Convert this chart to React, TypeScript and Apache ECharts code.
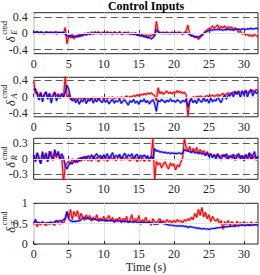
import React, { useEffect, useRef } from "react";
import * as echarts from "echarts";

const T_STEP = 0.25;
const X_TICKS = [0, 5, 10, 15, 20, 25, 30];
const X_TICKS_NO0 = [5, 10, 15, 20, 25, 30];

const elevRed = [
  0.02, 0.0, 0.03, -0.01, 0.02, 0.01, -0.02, 0.03,
  0.0, 0.02, -0.01, 0.01, 0.03, -0.02, 0.01, 0.0,
  0.02, -0.01, 0.14, -0.26, -0.05, -0.12, -0.03, -0.14,
  -0.06, -0.1, -0.02, -0.08, -0.04, 0.0, -0.05, 0.02,
  -0.02, 0.03, -0.01, 0.04, 0.0, 0.03, -0.02, 0.02,
  0.01, -0.02, 0.04, 0.0, 0.02, -0.03, 0.03, 0.01,
  -0.01, 0.04, 0.0, -0.02, 0.02, 0.0, 0.03, -0.03,
  0.01, -0.02, 0.02, -0.04, -0.02, -0.06, -0.03, -0.08,
  -0.04, -0.09, -0.05, -0.07, -0.03, -0.06, 0.29, 0.05,
  0.02, -0.01, 0.02, 0.0, 0.03, -0.01, 0.01, 0.02,
  -0.01, 0.02, 0.0, 0.03, 0.01, -0.02, 0.02, 0.05,
  0.2, -0.03, -0.08, -0.05, -0.11, -0.08, -0.15, -0.1,
  -0.06, 0.0, 0.05, 0.08, 0.12, 0.1, 0.18, 0.12,
  0.16, 0.2, 0.11, 0.17, 0.13, 0.18, 0.1, 0.16,
  0.12, 0.15, 0.08, 0.13, 0.09, 0.02, 0.05, -0.02,
  0.0, -0.05, -0.02, -0.07, -0.04, -0.08, -0.03, -0.06,
  -0.09,
];
const elevBlue = [
  0.03, 0.02, 0.04, 0.01, 0.03, 0.02, 0.0, 0.03,
  0.02, 0.01, 0.03, 0.0, 0.02, 0.03, 0.01, 0.02,
  0.01, 0.02, -0.02, -0.06, -0.08, -0.05, -0.1, -0.07,
  -0.09, -0.06, -0.08, -0.04, -0.06, -0.02, -0.04, -0.01,
  -0.03, 0.0, -0.02, 0.01, -0.01, 0.02, 0.0, -0.01,
  0.01, 0.0, 0.02, -0.01, 0.01, 0.0, 0.02, -0.01,
  0.0, 0.01, -0.02, 0.0, 0.01, -0.01, 0.0, -0.02,
  -0.01, -0.03, -0.02, -0.05, -0.04, -0.07, -0.06, -0.09,
  -0.08, -0.12, -0.1, -0.14, -0.11, -0.06, 0.09, 0.03,
  0.01, 0.0, 0.02, -0.01, 0.01, 0.0, -0.01, 0.01,
  0.0, 0.01, -0.01, 0.01, 0.0, -0.02, 0.0, 0.01,
  -0.01, -0.03, -0.05, -0.07, -0.09, -0.08, -0.1, -0.07,
  -0.04, -0.01, 0.02, 0.05, 0.07, 0.08, 0.07, 0.09,
  0.08, 0.1, 0.08, 0.09, 0.07, 0.09, 0.08, 0.1,
  0.08, 0.09, 0.07, 0.1, 0.09, 0.1, 0.08, 0.11,
  0.1, 0.09, 0.11, 0.1, 0.12, 0.1, 0.11, 0.12,
  0.11,
];
const ailRed = [
  0.38, 0.08, 0.12, 0.02, 0.1, -0.02, 0.06, 0.11,
  0.0, 0.08, -0.04, 0.05, 0.12, 0.02, 0.07, 0.03,
  0.06, 0.0, 0.5, -0.02, 0.05, -0.06, -0.03, -0.08,
  -0.04, -0.07, -0.02, -0.06, -0.03, -0.05, -0.02, -0.06,
  -0.03, -0.05, -0.01, -0.04, -0.02, -0.06, -0.03, -0.01,
  -0.04, -0.02, -0.05, -0.01, -0.03, 0.0, -0.04, -0.02,
  -0.01, -0.04, 0.0, -0.03, -0.01, 0.02, -0.02, 0.01,
  0.0, 0.03, 0.01, 0.05, 0.02, 0.06, 0.04, 0.08,
  0.05, 0.09, 0.07, 0.1, 0.06, 0.03, -0.1, 0.22,
  0.08, 0.12, 0.06, 0.1, 0.14, 0.08, 0.11, 0.07,
  0.12, 0.09, 0.15, 0.1, 0.13, 0.08, 0.11, 0.05,
  -0.48, -0.1, -0.03, 0.0, -0.02, 0.01, -0.01, 0.02,
  0.0, -0.02, 0.01, 0.03, 0.0, 0.02, 0.04, 0.01,
  0.03, 0.06, 0.02, 0.05, 0.08, 0.04, 0.07, 0.1,
  0.06, 0.09, 0.12, 0.07, 0.1, 0.14, 0.08, 0.12,
  0.1, 0.15, 0.09, 0.13, 0.11, 0.16, 0.12, 0.18,
  0.14,
];
const ailBlue = [
  0.16, 0.2, 0.05, -0.08, 0.1, -0.12, 0.04, 0.12,
  -0.06, 0.08, -0.15, 0.02, 0.1, -0.1, 0.05, -0.04,
  0.08, -0.02, 0.12, 0.28, 0.18, -0.02, -0.1, -0.05,
  -0.14, -0.06, -0.18, -0.08, -0.12, -0.03, -0.16, -0.07,
  -0.1, -0.02, -0.15, -0.06, -0.12, -0.04, -0.09, -0.14,
  -0.05, -0.13, -0.08, -0.17, -0.1, -0.06, -0.15, -0.09,
  -0.12, -0.05, -0.16, -0.1, -0.07, -0.14, -0.2, -0.09,
  -0.13, -0.06, -0.15, -0.1, -0.18, -0.08, -0.12, -0.05,
  -0.14, -0.09, -0.17, -0.11, -0.07, -0.16, -0.35, -0.08,
  -0.12, -0.06, -0.1, -0.14, -0.08, -0.12, -0.05, -0.11,
  -0.09, -0.13, -0.07, -0.1, -0.15, -0.08, -0.12, -0.06,
  -0.25, -0.12, -0.05, -0.14, -0.08, -0.16, -0.04, -0.1,
  -0.13, -0.02, -0.11, -0.06, -0.15, -0.03, -0.12, -0.07,
  -0.1, 0.0, -0.08, -0.14, -0.02, 0.04, -0.06, 0.05,
  0.02, 0.1, 0.0, 0.14, 0.06, 0.12, -0.02, 0.15,
  0.04, 0.16, 0.0, 0.12, 0.18, 0.02, 0.14, 0.08,
  0.12,
];
const rudRed = [
  0.05, -0.06, 0.1, 0.0, -0.08, 0.08, -0.02, 0.12,
  -0.04, 0.06, 0.14, -0.03, 0.1, 0.02, 0.15, -0.02,
  0.04, -0.45, -0.15, -0.08, -0.05, -0.1, 0.0, -0.06,
  -0.02, -0.08, 0.02, -0.05, 0.04, -0.03, 0.05, -0.04,
  0.02, -0.05, 0.06, -0.02, 0.03, -0.06, 0.01, 0.05,
  -0.03, 0.04, -0.05, 0.02, 0.06, -0.02, 0.03, -0.04,
  0.02, 0.05, -0.03, 0.04, -0.02, 0.03, 0.0, -0.04,
  0.03, -0.02, 0.05, -0.06, 0.02, -0.03, 0.04, -0.05,
  -0.01, 0.03, -0.05, 0.02, 0.4, -0.42, -0.05, -0.12,
  -0.08, -0.18, -0.1, -0.06, -0.15, -0.2, -0.08, -0.14,
  -0.1, -0.22, -0.12, -0.16, -0.06, 0.02, 0.4, 0.22,
  0.16, 0.24, 0.12, 0.2, 0.14, 0.22, 0.1, 0.18,
  0.12, 0.16, 0.08, 0.14, 0.06, 0.1, 0.04, 0.08,
  0.05, 0.1, 0.02, 0.07, 0.04, 0.08, 0.0, 0.06,
  0.03, 0.07, 0.0, 0.05, 0.08, 0.02, 0.06, 0.01,
  0.04, 0.08, -0.02, 0.05, 0.1, 0.0, 0.06, -0.03,
  0.04,
];
const rudBlue = [
  0.08, -0.05, 0.12, 0.02, -0.1, 0.14, 0.0, 0.1,
  -0.06, 0.15, 0.04, -0.02, 0.18, 0.06, 0.12, 0.0,
  0.1, 0.02, -0.14, -0.2, -0.12, -0.08, -0.1, -0.04,
  -0.07, 0.0, -0.05, 0.03, -0.02, 0.05, 0.0, 0.06,
  0.02, 0.08, -0.01, 0.06, 0.1, 0.02, 0.07, 0.0,
  0.08, 0.03, 0.1, -0.02, 0.06, 0.12, 0.02, 0.07,
  0.03, 0.09, 0.0, 0.06, 0.11, 0.02, 0.08, 0.04,
  0.1, 0.01, 0.06, 0.09, 0.0, 0.07, 0.03, 0.08,
  0.02, 0.06, -0.02, 0.05, 0.0, 0.2, 0.15, 0.16,
  0.13, 0.14, 0.12, 0.13, 0.11, 0.12, 0.1, 0.12,
  0.1, 0.11, 0.1, 0.12, 0.1, 0.11, 0.18, 0.16,
  0.15, 0.14, 0.12, 0.15, 0.11, 0.13, 0.1, 0.12,
  0.09, 0.11, 0.06, 0.12, 0.04, 0.1, 0.02, 0.08,
  0.0, 0.09, 0.03, -0.02, 0.08, 0.04, 0.1, -0.01,
  0.06, 0.02, 0.09, -0.03, 0.05, 0.1, 0.0, 0.07,
  -0.04, 0.08, 0.02, 0.12, -0.02, 0.06, 0.14, 0.0,
  0.05,
];
const thrRed = [
  0.48, 0.55, 0.42, 0.52, 0.47, 0.56, 0.5, 0.45,
  0.53, 0.48, 0.55, 0.5, 0.46, 0.58, 0.52, 0.49,
  0.55, 0.5, 0.62, 0.78, 0.65, 0.85, 0.6, 0.8,
  0.68, 0.82, 0.6, 0.75, 0.66, 0.58, 0.72, 0.62,
  0.7, 0.56, 0.66, 0.6, 0.72, 0.55, 0.64, 0.58,
  0.68, 0.55, 0.63, 0.7, 0.57, 0.65, 0.52, 0.62,
  0.58, 0.66, 0.52, 0.63, 0.56, 0.68, 0.5, 0.6,
  0.72, 0.5, 0.62, 0.56, 0.7, 0.48, 0.6, 0.54,
  0.66, 0.5, 0.58, 0.46, 0.62, 0.55, 0.5, 0.58,
  0.62, 0.52, 0.58, 0.5, 0.6, 0.54, 0.57, 0.52,
  0.58, 0.53, 0.6, 0.55, 0.57, 0.52, 0.6, 0.56,
  0.62, 0.58, 0.66, 0.6, 0.75, 0.65, 0.85, 0.7,
  0.9, 0.66, 0.78, 0.62, 0.72, 0.55, 0.68, 0.6,
  0.56, 0.62, 0.5, 0.58, 0.36, 0.55, 0.48, 0.58,
  0.45, 0.55, 0.5, 0.42, 0.56, 0.48, 0.53, 0.46,
  0.55, 0.48, 0.52, 0.45, 0.54, 0.5, 0.47, 0.53,
  0.5,
];
const thrBlue = [
  0.5, 0.6, 0.52, 0.53, 0.51, 0.52, 0.5, 0.52,
  0.51, 0.53, 0.52, 0.5, 0.55, 0.57, 0.55, 0.58,
  0.56, 0.6, 0.62, 0.8, 0.62, 0.57, 0.55, 0.56,
  0.55, 0.57, 0.56, 0.6, 0.64, 0.66, 0.62, 0.63,
  0.61, 0.62, 0.6, 0.61, 0.59, 0.6, 0.58, 0.59,
  0.58, 0.59, 0.57, 0.58, 0.57, 0.58, 0.56, 0.57,
  0.56, 0.57, 0.55, 0.56, 0.55, 0.56, 0.54, 0.55,
  0.55, 0.54, 0.55, 0.53, 0.54, 0.53, 0.54, 0.52,
  0.53, 0.52, 0.53, 0.51, 0.52, 0.48, 0.5, 0.49,
  0.55, 0.53, 0.5, 0.49, 0.48, 0.47, 0.46, 0.46,
  0.45, 0.45, 0.44, 0.45, 0.44, 0.45, 0.43, 0.44,
  0.4, 0.43, 0.42, 0.41, 0.4, 0.39, 0.39, 0.38,
  0.37, 0.38, 0.37, 0.37, 0.36, 0.37, 0.38, 0.38,
  0.39, 0.4, 0.4, 0.41, 0.41, 0.42, 0.42, 0.43,
  0.43, 0.44, 0.44, 0.45, 0.45, 0.44, 0.46, 0.46,
  0.46, 0.45, 0.47, 0.46, 0.47, 0.46, 0.48, 0.47,
  0.47,
];

const FONT = '"Liberation Serif", "Times New Roman", serif';

type Panel = {
  red: number[];
  blue: number[];
  yMin: number;
  yMax: number;
  yTicks: number[];
  limits: number[];
  sub: string;
  top: number;
  height: number;
  xTicks: number[];
};

const panels: Panel[] = [
  { red: elevRed, blue: elevBlue, yMin: -0.5, yMax: 0.5, yTicks: [-0.4, 0, 0.4], limits: [-0.4, 0.4], sub: "E", top: 12.7, height: 41, xTicks: X_TICKS },
  { red: ailRed, blue: ailBlue, yMin: -0.48, yMax: 0.47, yTicks: [-0.4, 0, 0.4], limits: [-0.4, 0.4], sub: "A", top: 77.3, height: 39.5, xTicks: X_TICKS },
  { red: rudRed, blue: rudBlue, yMin: -0.4, yMax: 0.4, yTicks: [-0.3, 0, 0.3], limits: [-0.3, 0.3], sub: "R", top: 138.3, height: 41, xTicks: X_TICKS_NO0 },
  { red: thrRed, blue: thrBlue, yMin: 0, yMax: 1, yTicks: [0, 0.5, 1], limits: [], sub: "T", top: 203.3, height: 40.7, xTicks: X_TICKS },
];

const toPairs = (arr: number[]) => arr.map((v, i) => [i * T_STEP, v]);

function lineSeries(k: number, data: number[], color: string, width: number, opacity: number, z: number) {
  return {
    type: "line",
    xAxisIndex: k,
    yAxisIndex: k,
    data: toPairs(data),
    showSymbol: false,
    symbol: "none",
    silent: true,
    z,
    lineStyle: { color, width, opacity },
    itemStyle: { color },
  };
}

function buildOption() {
  const grid: any[] = [];
  const xAxis: any[] = [];
  const yAxis: any[] = [];
  const series: any[] = [];
  const graphic: any[] = [];

  panels.forEach((p, k) => {
    grid.push({
      left: 33.7,
      right: 2,
      top: p.top,
      height: p.height,
      show: true,
      borderColor: "#262626",
      borderWidth: 1,
      backgroundColor: "#fff",
    });
    xAxis.push({
      type: "value",
      gridIndex: k,
      min: 0,
      max: 32,
      interval: 5,
      axisLine: { show: false },
      axisTick: { show: true, inside: true, length: 3, customValues: p.xTicks, lineStyle: { color: "#262626" } },
      axisLabel: { customValues: p.xTicks, margin: 4, fontSize: 12, fontFamily: FONT, color: "#262626" },
      splitLine: { show: true, lineStyle: { color: "#e3e3e3", width: 1 } },
    });
    yAxis.push({
      type: "value",
      gridIndex: k,
      min: p.yMin,
      max: p.yMax,
      axisLine: { show: false },
      axisTick: { show: true, inside: true, length: 3, customValues: p.yTicks, lineStyle: { color: "#262626" } },
      axisLabel: {
        customValues: p.yTicks,
        margin: 6,
        fontSize: 12,
        fontFamily: FONT,
        color: "#262626",
        formatter: (v: number) => String(v),
      },
      splitLine: { show: false },
    });
    const gridLines = p.yTicks.filter((v) => p.limits.indexOf(v) < 0 && v > p.yMin && v < p.yMax);
    series.push({
      type: "line",
      xAxisIndex: k,
      yAxisIndex: k,
      data: [],
      z: 1,
      silent: true,
      markLine: {
        silent: true,
        symbol: ["none", "none"],
        label: { show: false },
        animation: false,
        data: gridLines.map((v) => ({ yAxis: v, lineStyle: { color: "#e3e3e3", width: 1, type: "solid" } })),
      },
    });
    series.push(lineSeries(k, p.red, "#ff0000", 2.6, 0.3, 2));
    series.push(lineSeries(k, p.blue, "#0000ff", 2.6, 0.3, 2));
    series.push(lineSeries(k, p.red, "#ff0000", 1.1, 1, 3));
    series.push(lineSeries(k, p.blue, "#0000ff", 1.1, 1, 4));
    if (p.limits.length) {
      series.push({
        type: "line",
        xAxisIndex: k,
        yAxisIndex: k,
        data: [],
        z: 5,
        silent: true,
        markLine: {
          silent: true,
          symbol: ["none", "none"],
          label: { show: false },
          animation: false,
          data: p.limits.map((v) => ({ yAxis: v, lineStyle: { color: "#5a5a5a", width: 1.2, type: [7, 4] } })),
        },
      });
    }
    const cy = p.top + p.height / 2;
    graphic.push({
      type: "group",
      x: 10,
      y: cy,
      rotation: Math.PI / 2,
      children: [
        { type: "text", x: -9, y: 0.5, style: { text: "δ", font: `italic 12px ${FONT}`, textAlign: "left", textVerticalAlign: "middle", fill: "#262626" } },
        { type: "text", x: -1.5, y: -6, style: { text: "cmd", font: `8px ${FONT}`, textAlign: "left", textVerticalAlign: "middle", fill: "#262626" } },
        { type: "text", x: -1.5, y: 4, style: { text: p.sub, font: `italic 8px ${FONT}`, textAlign: "left", textVerticalAlign: "middle", fill: "#262626" } },
      ],
    });
  });

  graphic.push({
    type: "text",
    x: 146,
    y: 5.5,
    style: { text: "Control Inputs", font: `bold 12px ${FONT}`, textAlign: "center", textVerticalAlign: "middle", fill: "#000" },
  });
  graphic.push({
    type: "text",
    x: 146,
    y: 266.5,
    style: { text: "Time (s)", font: `12px ${FONT}`, textAlign: "center", textVerticalAlign: "middle", fill: "#262626" },
  });

  return {
    animation: false,
    backgroundColor: "#fff",
    grid,
    xAxis,
    yAxis,
    series,
    graphic,
  };
}

export default function App() {
  const ref = useRef<HTMLDivElement>(null);
  useEffect(() => {
    if (!ref.current) return;
    const chart = echarts.init(ref.current, null, { renderer: "svg" });
    chart.setOption(buildOption() as any);
    return () => chart.dispose();
  }, []);
  return <div ref={ref} style={{ position: "fixed", left: 0, top: 0, width: 260, height: 275 }} />;
}
